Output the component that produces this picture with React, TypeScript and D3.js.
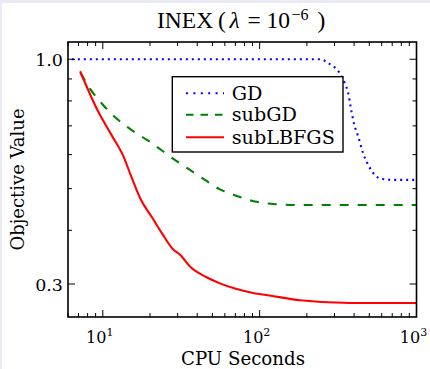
import React from 'react';
import * as d3 from 'd3';

const gdX = [6.35, 242, 280, 321, 349, 367, 380, 399, 425, 457, 492, 542, 598, 746, 1000];
const gdY = [1.0, 1.0, 0.975, 0.933, 0.879, 0.834, 0.776, 0.71, 0.661, 0.604, 0.568, 0.538, 0.527, 0.524, 0.524];

const subGdX = [7.2, 8.26, 10.04, 12.2, 15.2, 18.9, 23.6, 29.4, 34.6, 44.8, 55.8, 71.4, 95.7, 128, 172, 1000];
const subGdY = [0.93, 0.856, 0.783, 0.729, 0.685, 0.651, 0.615, 0.58, 0.558, 0.524, 0.498, 0.481, 0.466, 0.46, 0.458, 0.458];

const lbfgsX = [7.17, 9.24, 11.35, 13.5, 15.2, 17.5, 20.5, 23.8, 27.9, 31.1, 36.4, 45.9, 55.8, 71.4, 91, 116, 181, 376, 1000];
const lbfgsY = [0.938, 0.762, 0.667, 0.596, 0.533, 0.471, 0.43, 0.394, 0.362, 0.351, 0.328, 0.311, 0.301, 0.292, 0.286, 0.282, 0.275, 0.271, 0.271];

const xMajor = [10, 100, 1000];
const xMajorExp = ['1', '2', '3'];
const xMinor = [6, 7, 8, 9, 20, 30, 40, 50, 60, 70, 80, 90, 200, 300, 400, 500, 600, 700, 800, 900];
const yMajor = [0.3, 1.0];
const yMajorLabels = ['0.3', '1.0'];
const yMinor = [0.4, 0.5, 0.6, 0.7, 0.8, 0.9];

const seriesNames = ['GD', 'subGD', 'subLBFGS'];
const seriesColors = ['#0000ff', '#008000', '#ff0000'];

const titleParts = ['INEX', '(', 'λ', '=', '10', '−6', ')'];

const W = 430, H = 369;
const L = 68, R = 416.5, T = 42, B = 317;

export default function App() {
  const x = d3.scaleLog().domain([6, 1000]).range([L, R]);
  const y = d3.scaleLog().domain([0.2514, 1.097]).range([B, T]);
  const mk = (xs: number[], ys: number[]) =>
    d3.line<number>().x((d, i) => x(xs[i])).y((d, i) => y(ys[i])).curve(d3.curveMonotoneX)(xs) || '';

  const series = [
    { path: mk(gdX, gdY), dash: '2,4', legDash: '2,5.4' },
    { path: mk(subGdX, subGdY), dash: '9,9', legDash: '7.5,7' },
    { path: mk(lbfgsX, lbfgsY), dash: undefined, legDash: undefined },
  ];

  const font = 'DejaVu Serif';
  const majLen = 7, minLen = 4;
  const tStyle = [
    { x: 157, y: 28.3, fs: 23.5, it: false },
    { x: 218, y: 28.3, fs: 23.5, it: false },
    { x: 229.5, y: 28.3, fs: 23.5, it: true },
    { x: 247.5, y: 28.3, fs: 23.5, it: false },
    { x: 266.5, y: 28.3, fs: 23.5, it: false },
    { x: 291.5, y: 20, fs: 16, it: false },
    { x: 317.5, y: 28.3, fs: 23.5, it: false },
  ];

  return (
    <svg width={W} height={H} style={{ position: 'absolute', left: 0, top: 0 }} xmlns="http://www.w3.org/2000/svg">
      <rect x={0} y={0} width={W} height={H} fill="#eaeaf6" />
      <rect x={2} y={3} width={W - 2} height={H - 3} fill="#ffffff" />
      <defs>
        <clipPath id="plot">
          <rect x={L} y={T} width={R - L} height={B - T} />
        </clipPath>
      </defs>
      <g clipPath="url(#plot)">
        {series.map((s, i) => (
          <path key={i} d={s.path} fill="none" stroke={seriesColors[i]} strokeWidth={2.1}
            strokeDasharray={s.dash} strokeLinejoin="round" />
        ))}
      </g>
      <g stroke="#000" strokeWidth={1}>
        {xMajor.map((v) => (
          <g key={'xM' + v}>
            <line x1={x(v)} x2={x(v)} y1={B} y2={B - majLen} />
            <line x1={x(v)} x2={x(v)} y1={T} y2={T + majLen} />
          </g>
        ))}
        {xMinor.map((v) => (
          <g key={'xm' + v}>
            <line x1={x(v)} x2={x(v)} y1={B} y2={B - minLen} />
            <line x1={x(v)} x2={x(v)} y1={T} y2={T + minLen} />
          </g>
        ))}
        {yMajor.map((v) => (
          <g key={'yM' + v}>
            <line x1={L} x2={L + majLen} y1={y(v)} y2={y(v)} />
            <line x1={R} x2={R - majLen} y1={y(v)} y2={y(v)} />
          </g>
        ))}
        {yMinor.map((v) => (
          <g key={'ym' + v}>
            <line x1={L} x2={L + minLen} y1={y(v)} y2={y(v)} />
            <line x1={R} x2={R - minLen} y1={y(v)} y2={y(v)} />
          </g>
        ))}
      </g>
      <rect x={L} y={T} width={R - L} height={B - T} fill="none" stroke="#000" strokeWidth={1.6} />
      <g fontFamily={font} fill="#000">
        {xMajor.map((v, i) => (
          <text key={'xl' + v} x={x(v) - 3} y={342.7} fontSize={16} textAnchor="middle">
            10<tspan fontSize={11} dy={-7}>{xMajorExp[i]}</tspan>
          </text>
        ))}
        {yMajor.map((v, i) => (
          <text key={'yl' + v} x={63} y={y(v) + 6.5} fontSize={17.5} textAnchor="end">{yMajorLabels[i]}</text>
        ))}
        <text x={243} y={365} fontSize={18.2} textAnchor="middle">CPU Seconds</text>
        <text transform={`translate(23.5,${(T + B) / 2}) rotate(-90)`} fontSize={18} textAnchor="middle">Objective Value</text>
      </g>
      <g fontFamily="Liberation Serif" fill="#000">
        {titleParts.map((p, i) => (
          <text key={'t' + i} x={tStyle[i].x} y={tStyle[i].y} fontSize={tStyle[i].fs}
            fontStyle={tStyle[i].it ? 'italic' : 'normal'}>{p}</text>
        ))}
      </g>
      <g>
        <rect x={172.3} y={76.7} width={170.7} height={75.3} fill="#fff" stroke="#000" strokeWidth={1.4} />
        {seriesNames.map((n, i) => {
          const ly = [93.3, 114.7, 137.3][i];
          return (
            <g key={n}>
              <line x1={186} x2={224} y1={ly} y2={ly} stroke={seriesColors[i]} strokeWidth={2}
                strokeDasharray={series[i].legDash} />
              <text x={231.7} y={ly + 6.5} fontFamily={font} fontSize={19.2}>{n}</text>
            </g>
          );
        })}
      </g>
    </svg>
  );
}
